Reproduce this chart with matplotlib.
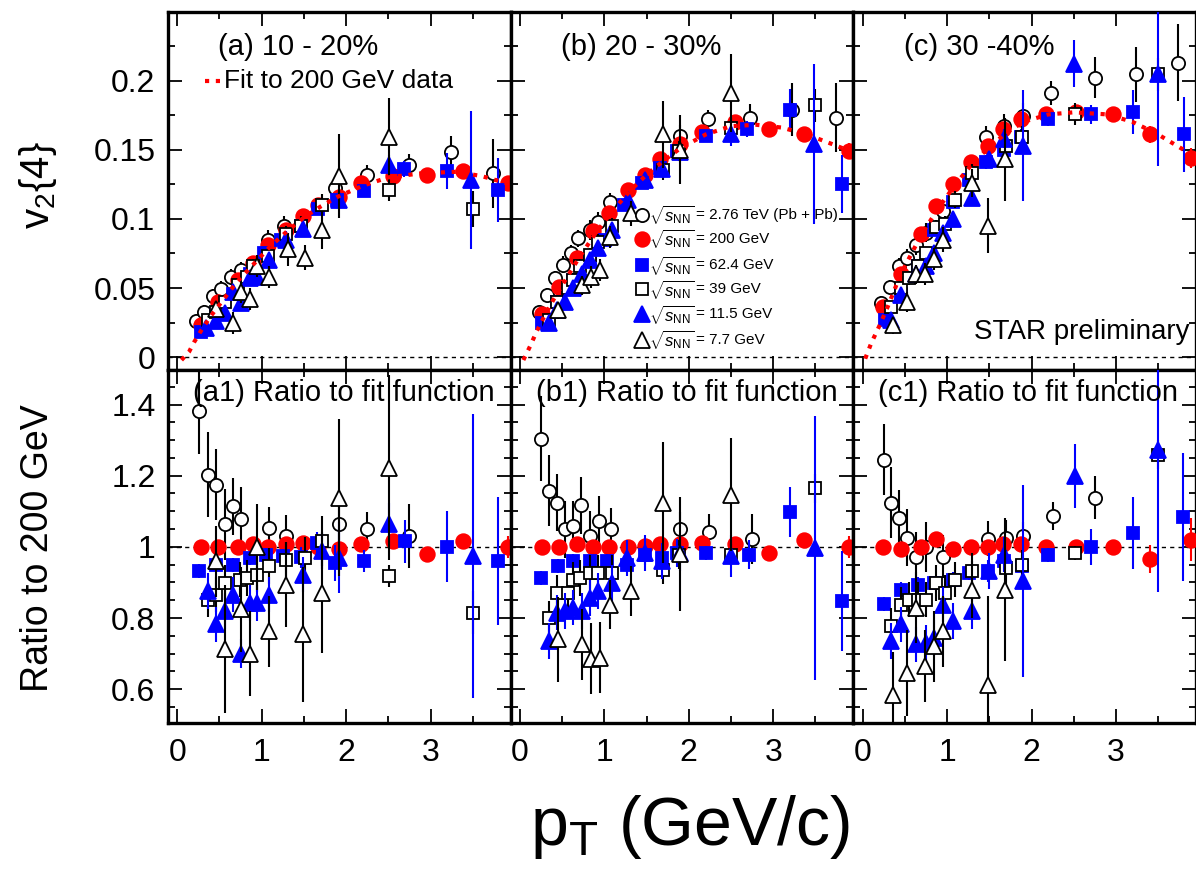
import matplotlib
matplotlib.use('Agg')
import matplotlib.pyplot as plt
from matplotlib.ticker import MultipleLocator, FuncFormatter

plt.rcParams['font.family'] = ['Liberation Sans', 'DejaVu Sans']
plt.rcParams['mathtext.fontset'] = 'custom'
plt.rcParams['mathtext.rm'] = 'Liberation Sans'
plt.rcParams['mathtext.it'] = 'Liberation Sans:italic'
plt.rcParams['mathtext.bf'] = 'Liberation Sans:bold'

energies = ['2.76 TeV (Pb + Pb)', '200 GeV', '62.4 GeV', '39 GeV', '11.5 GeV', '7.7 GeV']
centralities = ['(a) 10 - 20%', '(b) 20 - 30%', '(c) 30 -40%']
ratio_titles = ['(a1) Ratio to fit function', '(b1) Ratio to fit function', '(c1) Ratio to fit function']

# fit to 200 GeV v2{4}: (pT, v2)
fit_a_pt = [0.05, 0.14, 0.2, 0.3, 0.4, 0.5, 0.7, 0.9, 1.1, 1.3, 1.5, 1.7, 1.9, 2.2, 2.5, 2.9, 3.3, 3.6, 3.95]
fit_a_v2 = [-0.002, 0.004, 0.011, 0.021, 0.030, 0.038, 0.054, 0.067, 0.080, 0.091, 0.101, 0.109, 0.116, 0.124, 0.130, 0.133, 0.134, 0.131, 0.125]
fit_b_pt = [0.04, 0.12, 0.2, 0.3, 0.4, 0.5, 0.7, 0.9, 1.1, 1.3, 1.5, 1.7, 1.9, 2.2, 2.5, 2.8, 3.1, 3.4, 3.7, 3.95]
fit_b_v2 = [-0.002, 0.008, 0.019, 0.031, 0.042, 0.052, 0.072, 0.090, 0.106, 0.120, 0.132, 0.142, 0.151, 0.161, 0.167, 0.168, 0.166, 0.161, 0.154, 0.148]
fit_c_pt = [0.03, 0.1, 0.2, 0.3, 0.45, 0.7, 0.9, 1.1, 1.3, 1.5, 1.7, 1.9, 2.2, 2.5, 2.9, 3.2, 3.5, 3.8, 3.97]
fit_c_v2 = [-0.001, 0.010, 0.023, 0.037, 0.060, 0.089, 0.108, 0.125, 0.140, 0.152, 0.162, 0.170, 0.1755, 0.177, 0.1755, 0.170, 0.161, 0.150, 0.143]

# v2{4} vs pT, (pT, v2, err), 10-20%
v2_276_a = [(0.22, 0.026, 0.004), (0.32, 0.033, 0.005), (0.42, 0.044, 0.005), (0.52, 0.049, 0.006), (0.64, 0.058, 0.006),
            (0.76, 0.063, 0.006), (1.07, 0.085, 0.007), (1.27, 0.095, 0.007), (1.87, 0.122, 0.008), (2.25, 0.132, 0.007),
            (2.74, 0.139, 0.008), (3.24, 0.148, 0.012), (3.74, 0.133, 0.025)]
v2_200_a = [(0.28, 0.023, 0.002), (0.48, 0.040, 0.002), (0.72, 0.056, 0.002), (0.90, 0.068, 0.002), (1.07, 0.081, 0.002),
            (1.29, 0.092, 0.002), (1.49, 0.102, 0.002), (1.67, 0.110, 0.002), (1.91, 0.116, 0.002), (2.18, 0.126, 0.003),
            (2.55, 0.131, 0.003), (2.96, 0.132, 0.003), (3.38, 0.1345, 0.004), (3.92, 0.126, 0.005)]
v2_624_a = [(0.28, 0.0186, 0.002), (0.46, 0.031, 0.002), (0.66, 0.046, 0.002), (0.86, 0.060, 0.002), (1.03, 0.075, 0.003),
            (1.23, 0.085, 0.003), (1.47, 0.095, 0.003), (1.67, 0.107, 0.003), (1.89, 0.114, 0.004), (2.21, 0.120, 0.004),
            (2.68, 0.136, 0.006), (3.20, 0.1345, 0.013), (3.80, 0.121, 0.023)]
v2_39_a = [(0.36, 0.027, 0.004), (0.46, 0.033, 0.004), (0.56, 0.040, 0.004), (0.72, 0.052, 0.005), (0.82, 0.058, 0.005),
           (0.90, 0.066, 0.005), (1.07, 0.073, 0.006), (1.29, 0.089, 0.006), (1.47, 0.095, 0.007), (1.71, 0.110, 0.008),
           (2.51, 0.121, 0.008), (3.50, 0.107, 0.013)]
v2_115_a = [(0.34, 0.021, 0.003), (0.46, 0.026, 0.003), (0.56, 0.032, 0.003), (0.66, 0.047, 0.004), (0.76, 0.039, 0.004),
            (0.86, 0.057, 0.004), (0.95, 0.058, 0.005), (1.09, 0.070, 0.005), (1.29, 0.085, 0.006), (1.49, 0.093, 0.006),
            (1.91, 0.114, 0.007), (2.51, 0.139, 0.007), (3.48, 0.128, 0.05)]
v2_77_a = [(0.46, 0.035, 0.006), (0.66, 0.025, 0.008), (0.76, 0.047, 0.008), (0.86, 0.042, 0.008), (0.95, 0.066, 0.008),
           (1.09, 0.058, 0.008), (1.31, 0.078, 0.012), (1.51, 0.072, 0.009), (1.71, 0.092, 0.014), (1.91, 0.131, 0.03),
           (2.51, 0.159, 0.028)]

# 20-30%
v2_276_b = [(0.22, 0.033, 0.004), (0.32, 0.045, 0.005), (0.42, 0.057, 0.005), (0.51, 0.067, 0.006), (0.60, 0.075, 0.006),
            (0.69, 0.086, 0.006), (0.83, 0.092, 0.007), (0.93, 0.098, 0.007), (1.07, 0.112, 0.007), (1.90, 0.160, 0.008),
            (2.23, 0.172, 0.007), (2.73, 0.173, 0.01), (3.22, 0.179, 0.019), (3.74, 0.173, 0.025)]
v2_200_b = [(0.26, 0.031, 0.002), (0.46, 0.051, 0.002), (0.68, 0.072, 0.002), (0.87, 0.091, 0.002), (1.05, 0.104, 0.002),
            (1.28, 0.121, 0.002), (1.48, 0.132, 0.002), (1.66, 0.143, 0.002), (1.90, 0.154, 0.003), (2.16, 0.163, 0.003),
            (2.55, 0.170, 0.003), (2.95, 0.165, 0.004), (3.36, 0.161, 0.005), (3.90, 0.149, 0.006)]
v2_624_b = [(0.26, 0.025, 0.002), (0.44, 0.040, 0.002), (0.63, 0.056, 0.003), (0.83, 0.070, 0.003), (1.01, 0.085, 0.003),
            (1.23, 0.110, 0.003), (1.44, 0.126, 0.004), (1.66, 0.137, 0.004), (1.86, 0.149, 0.005), (2.20, 0.160, 0.004),
            (2.69, 0.165, 0.006), (3.20, 0.179, 0.015), (3.81, 0.125, 0.021)]
v2_39_b = [(0.34, 0.027, 0.004), (0.44, 0.040, 0.004), (0.57, 0.050, 0.005), (0.63, 0.056, 0.005), (0.71, 0.066, 0.005),
           (0.83, 0.074, 0.005), (0.93, 0.083, 0.006), (1.09, 0.095, 0.006), (1.70, 0.135, 0.007), (1.88, 0.149, 0.007),
           (2.50, 0.166, 0.007), (3.50, 0.182, 0.012)]
v2_115_b = [(0.34, 0.025, 0.003), (0.44, 0.034, 0.003), (0.53, 0.040, 0.003), (0.63, 0.050, 0.004), (0.73, 0.060, 0.004),
            (0.83, 0.070, 0.004), (0.93, 0.079, 0.004), (1.09, 0.092, 0.005), (1.28, 0.114, 0.005), (1.48, 0.128, 0.005),
            (1.68, 0.136, 0.006), (1.90, 0.148, 0.007), (2.50, 0.161, 0.008), (3.48, 0.154, 0.058)]
v2_77_b = [(0.45, 0.034, 0.006), (0.73, 0.052, 0.007), (0.84, 0.058, 0.008), (0.95, 0.063, 0.008), (1.07, 0.087, 0.008),
           (1.31, 0.104, 0.009), (1.69, 0.161, 0.024), (1.90, 0.150, 0.025), (2.50, 0.191, 0.028)]

# 30-40%
v2_276_c = [(0.22, 0.039, 0.005), (0.32, 0.051, 0.005), (0.43, 0.066, 0.006), (0.53, 0.072, 0.006), (0.63, 0.081, 0.007),
            (0.75, 0.090, 0.007), (0.95, 0.106, 0.007), (1.46, 0.159, 0.008), (1.68, 0.167, 0.009), (1.90, 0.174, 0.01),
            (2.23, 0.191, 0.009), (2.75, 0.202, 0.015), (3.24, 0.2045, 0.02), (3.73, 0.213, 0.028)]
v2_200_c = [(0.24, 0.036, 0.002), (0.45, 0.060, 0.002), (0.69, 0.089, 0.002), (0.87, 0.109, 0.002), (1.07, 0.125, 0.002),
            (1.28, 0.141, 0.002), (1.48, 0.153, 0.002), (1.66, 0.165, 0.003), (1.88, 0.172, 0.003), (2.17, 0.1756, 0.003),
            (2.53, 0.177, 0.003), (2.96, 0.1756, 0.004), (3.40, 0.161, 0.006), (3.89, 0.144, 0.007)]
v2_624_c = [(0.26, 0.027, 0.002), (0.45, 0.046, 0.003), (0.65, 0.066, 0.003), (0.85, 0.092, 0.003), (1.07, 0.112, 0.004),
            (1.26, 0.128, 0.004), (1.46, 0.141, 0.005), (1.68, 0.150, 0.005), (1.88, 0.159, 0.006), (2.19, 0.172, 0.005),
            (2.71, 0.1756, 0.007), (3.20, 0.177, 0.016), (3.81, 0.161, 0.027)]
v2_39_c = [(0.34, 0.036, 0.004), (0.45, 0.050, 0.004), (0.55, 0.057, 0.005), (0.65, 0.066, 0.005), (0.75, 0.075, 0.005),
           (0.87, 0.094, 0.005), (0.97, 0.096, 0.006), (1.09, 0.114, 0.006), (1.30, 0.133, 0.007), (1.70, 0.153, 0.008),
           (1.89, 0.159, 0.008), (2.51, 0.1756, 0.008), (3.50, 0.2045, 0.012)]
v2_115_c = [(0.34, 0.027, 0.003), (0.45, 0.045, 0.003), (0.63, 0.060, 0.004), (0.75, 0.066, 0.004), (0.85, 0.075, 0.004),
            (0.95, 0.090, 0.005), (1.07, 0.100, 0.005), (1.30, 0.115, 0.006), (1.50, 0.143, 0.006), (1.68, 0.158, 0.007),
            (1.90, 0.153, 0.04), (2.50, 0.212, 0.017), (3.50, 0.2045, 0.066)]
v2_77_c = [(0.36, 0.023, 0.006), (0.53, 0.040, 0.007), (0.63, 0.060, 0.007), (0.74, 0.060, 0.008), (0.85, 0.071, 0.008),
           (0.95, 0.085, 0.009), (1.30, 0.126, 0.01), (1.49, 0.095, 0.02), (1.69, 0.143, 0.03)]

# ratio to the 200 GeV fit, (pT, ratio, err)
ratio_276_a = [(0.26, 1.381, 0.12), (0.36, 1.203, 0.12), (0.46, 1.175, 0.1), (0.56, 1.063, 0.1), (0.66, 1.114, 0.08),
               (0.76, 1.077, 0.09), (1.09, 1.053, 0.06), (1.29, 1.03, 0.06), (1.91, 1.065, 0.07), (2.25, 1.049, 0.05),
               (2.74, 1.03, 0.09)]
ratio_200_a = [(0.28, 1.0, 0.01), (0.48, 1.0, 0.01), (0.72, 1.0, 0.01), (0.90, 1.007, 0.01), (1.07, 1.0, 0.01),
               (1.29, 1.007, 0.01), (1.49, 1.01, 0.01), (1.67, 1.0, 0.01), (1.91, 0.994, 0.01), (2.18, 1.007, 0.015),
               (2.55, 1.016, 0.015), (2.96, 0.98, 0.015), (3.38, 1.016, 0.02), (3.92, 1.0, 0.03)]
ratio_624_a = [(0.26, 0.932, 0.02), (0.46, 0.95, 0.02), (0.66, 0.95, 0.02), (0.86, 0.969, 0.02), (1.05, 0.978, 0.02),
               (1.25, 0.974, 0.02), (1.47, 0.971, 0.03), (1.65, 1.011, 0.03), (1.87, 0.955, 0.05), (2.21, 0.96, 0.03),
               (2.70, 1.016, 0.06), (3.20, 1.0, 0.1), (3.80, 0.96, 0.18)]
ratio_39_a = [(0.36, 0.852, 0.05), (0.46, 0.866, 0.05), (0.56, 0.899, 0.05), (0.74, 0.908, 0.05), (0.82, 0.913, 0.05),
              (0.95, 0.922, 0.05), (1.09, 0.946, 0.05), (1.29, 0.964, 0.05), (1.51, 0.969, 0.06), (1.71, 1.016, 0.07),
              (2.51, 0.918, 0.03), (3.50, 0.815, 0.06)]
ratio_115_a = [(0.36, 0.876, 0.05), (0.46, 0.782, 0.05), (0.56, 0.819, 0.05), (0.66, 0.866, 0.05), (0.76, 0.70, 0.04),
               (0.86, 0.843, 0.05), (0.95, 0.843, 0.05), (1.09, 0.866, 0.05), (1.49, 0.922, 0.05), (1.71, 0.988, 0.05),
               (1.91, 0.97, 0.1), (2.51, 1.063, 0.06), (3.50, 0.974, 0.4)]
ratio_77_a = [(0.46, 0.96, 0.1), (0.56, 0.712, 0.18), (0.76, 0.824, 0.12), (0.86, 0.70, 0.12), (0.95, 1.0, 0.12),
              (1.09, 0.763, 0.1), (1.29, 0.894, 0.12), (1.49, 0.754, 0.19), (1.71, 0.871, 0.17), (1.91, 1.138, 0.22),
              (2.51, 1.222, 0.26)]

ratio_276_b = [(0.25, 1.304, 0.12), (0.34, 1.158, 0.1), (0.44, 1.124, 0.08), (0.53, 1.049, 0.08), (0.63, 1.058, 0.07),
               (0.72, 1.117, 0.08), (0.83, 1.03, 0.07), (0.94, 1.072, 0.07), (1.08, 1.049, 0.06), (1.90, 1.049, 0.05),
               (2.24, 1.041, 0.05), (2.75, 1.023, 0.07)]
ratio_200_b = [(0.26, 1.0, 0.01), (0.46, 1.0, 0.01), (0.68, 1.007, 0.01), (0.87, 1.0, 0.01), (1.05, 1.0, 0.01),
               (1.28, 1.0, 0.01), (1.48, 1.003, 0.01), (1.66, 1.007, 0.01), (1.90, 1.007, 0.01), (2.16, 1.01, 0.015),
               (2.55, 1.007, 0.015), (2.95, 0.983, 0.015), (3.36, 1.02, 0.02), (3.90, 1.0, 0.03)]
ratio_624_b = [(0.25, 0.913, 0.02), (0.45, 0.946, 0.02), (0.63, 0.96, 0.02), (0.83, 0.96, 0.02), (1.03, 0.96, 0.02),
               (1.27, 0.95, 0.02), (1.48, 0.978, 0.03), (1.68, 0.969, 0.03), (1.86, 0.983, 0.04), (2.20, 0.983, 0.02),
               (2.71, 0.978, 0.04), (3.20, 1.098, 0.07), (3.81, 0.847, 0.14)]
ratio_39_b = [(0.34, 0.799, 0.05), (0.44, 0.871, 0.05), (0.57, 0.871, 0.05), (0.63, 0.908, 0.05), (0.71, 0.913, 0.05),
              (0.83, 0.927, 0.05), (0.93, 0.927, 0.05), (1.09, 0.927, 0.05), (1.70, 0.936, 0.04), (1.88, 0.978, 0.04),
              (2.50, 0.978, 0.03), (3.50, 1.164, 0.04)]
ratio_115_b = [(0.34, 0.735, 0.05), (0.44, 0.815, 0.05), (0.53, 0.819, 0.05), (0.63, 0.829, 0.05), (0.73, 0.819, 0.05),
               (0.83, 0.857, 0.05), (0.93, 0.876, 0.05), (1.09, 0.899, 0.05), (1.27, 0.969, 0.05), (1.48, 0.983, 0.05),
               (1.68, 0.96, 0.05), (1.90, 0.983, 0.05), (2.50, 0.974, 0.06), (3.50, 0.997, 0.37)]
ratio_77_b = [(0.45, 0.74, 0.12), (0.73, 0.726, 0.1), (0.84, 0.686, 0.1), (0.95, 0.688, 0.1), (1.07, 0.838, 0.07),
              (1.31, 0.876, 0.07), (1.69, 1.124, 0.17), (1.90, 0.98, 0.16), (2.50, 1.147, 0.16)]

ratio_276_c = [(0.25, 1.245, 0.1), (0.34, 1.124, 0.1), (0.43, 1.081, 0.08), (0.53, 1.025, 0.08), (0.63, 0.972, 0.07),
               (0.75, 1.0, 0.07), (0.95, 0.972, 0.06), (1.49, 1.023, 0.05), (1.70, 1.025, 0.05), (1.90, 1.03, 0.04),
               (2.25, 1.086, 0.04), (2.75, 1.138, 0.06)]
ratio_200_c = [(0.24, 1.0, 0.01), (0.45, 0.995, 0.01), (0.69, 1.0, 0.01), (0.87, 1.023, 0.01), (1.07, 0.995, 0.01),
               (1.28, 1.0, 0.01), (1.48, 1.0, 0.01), (1.66, 1.007, 0.01), (1.88, 1.007, 0.01), (2.17, 1.0, 0.015),
               (2.53, 1.0, 0.015), (2.96, 1.0, 0.02), (3.40, 0.966, 0.04), (3.89, 1.02, 0.06)]
ratio_624_c = [(0.25, 0.84, 0.02), (0.45, 0.88, 0.02), (0.65, 0.894, 0.02), (0.85, 0.899, 0.02), (1.07, 0.908, 0.02),
               (1.26, 0.927, 0.02), (1.48, 0.932, 0.03), (1.68, 0.96, 0.03), (1.89, 0.946, 0.03), (2.19, 0.978, 0.02),
               (2.71, 1.0, 0.05), (3.20, 1.039, 0.1), (3.80, 1.083, 0.18)]
ratio_39_c = [(0.34, 0.777, 0.05), (0.45, 0.838, 0.05), (0.55, 0.852, 0.05), (0.65, 0.852, 0.05), (0.75, 0.852, 0.05),
              (0.87, 0.899, 0.05), (0.97, 0.871, 0.05), (1.09, 0.908, 0.05), (1.30, 0.932, 0.05), (1.70, 0.941, 0.05),
              (1.89, 0.95, 0.04), (2.51, 0.983, 0.02), (3.50, 1.259, 0.04)]
ratio_115_c = [(0.34, 0.735, 0.05), (0.45, 0.782, 0.05), (0.63, 0.726, 0.05), (0.75, 0.73, 0.05), (0.85, 0.744, 0.05),
               (0.95, 0.838, 0.05), (1.07, 0.791, 0.05), (1.30, 0.819, 0.05), (1.50, 0.932, 0.05), (1.68, 0.978, 0.05),
               (1.90, 0.904, 0.27), (2.51, 1.198, 0.09), (3.50, 1.273, 0.4)]
ratio_77_c = [(0.36, 0.585, 0.12), (0.53, 0.646, 0.12), (0.63, 0.829, 0.1), (0.74, 0.665, 0.1), (0.85, 0.721, 0.1),
              (0.95, 0.763, 0.1), (1.30, 0.88, 0.08), (1.49, 0.613, 0.25), (1.69, 0.88, 0.2)]

fits = [(fit_a_pt, fit_a_v2), (fit_b_pt, fit_b_v2), (fit_c_pt, fit_c_v2)]
v2_sets = [[v2_276_a, v2_200_a, v2_624_a, v2_39_a, v2_115_a, v2_77_a],
           [v2_276_b, v2_200_b, v2_624_b, v2_39_b, v2_115_b, v2_77_b],
           [v2_276_c, v2_200_c, v2_624_c, v2_39_c, v2_115_c, v2_77_c]]
ratio_sets = [[ratio_276_a, ratio_200_a, ratio_624_a, ratio_39_a, ratio_115_a, ratio_77_a],
              [ratio_276_b, ratio_200_b, ratio_624_b, ratio_39_b, ratio_115_b, ratio_77_b],
              [ratio_276_c, ratio_200_c, ratio_624_c, ratio_39_c, ratio_115_c, ratio_77_c]]

# marker style per energy (same order as energies)
styles = [
    dict(marker='o', mfc='white', mec='black', color='black', ms=9.5),
    dict(marker='o', mfc='red', mec='red', color='red', ms=10.5),
    dict(marker='s', mfc='blue', mec='blue', color='blue', ms=9),
    dict(marker='s', mfc='white', mec='black', color='black', ms=9),
    dict(marker='^', mfc='blue', mec='blue', color='blue', ms=11),
    dict(marker='^', mfc='white', mec='black', color='black', ms=11.5),
]


def draw_points(ax, pts, st, z):
    pt = [p[0] for p in pts]
    val = [p[1] for p in pts]
    err = [p[2] for p in pts]
    ax.errorbar(pt, val, yerr=err, fmt='none', ecolor=st['color'], elinewidth=1.5, capsize=0, zorder=z)
    ax.plot(pt, val, ls='none', marker=st['marker'], ms=st['ms'], mfc=st['mfc'], mec=st['mec'],
            mew=1.3, clip_on=False, zorder=z + 0.5)


def style_axes(ax, ymajor, yminor):
    ax.set_xlim(-0.11, 3.95)
    ax.xaxis.set_major_locator(MultipleLocator(1))
    ax.xaxis.set_minor_locator(MultipleLocator(0.5))
    ax.yaxis.set_major_locator(MultipleLocator(ymajor))
    ax.yaxis.set_minor_locator(MultipleLocator(yminor))
    fmt = FuncFormatter(lambda v, p: '%g' % round(v, 3))
    ax.xaxis.set_major_formatter(fmt)
    ax.yaxis.set_major_formatter(fmt)
    ax.tick_params(which='both', direction='in', top=True, right=True, width=1.3, labelsize=23)
    ax.tick_params(which='major', length=10)
    ax.tick_params(which='minor', length=5)
    ax.tick_params(axis='x', pad=11)
    ax.tick_params(axis='y', pad=9)
    for s in ax.spines.values():
        s.set_linewidth(2.4)


fig = plt.figure(figsize=(11.96, 8.75), dpi=100)
left, width = 168 / 1196, 342.7 / 1196
top_axes, ratio_axes = [], []
for i in range(3):
    ax = fig.add_axes([left + i * width, 1 - 370 / 875, width, 358 / 875])
    axr = fig.add_axes([left + i * width, 1 - 723 / 875, width, 353 / 875])
    top_axes.append(ax)
    ratio_axes.append(axr)

for i in range(3):
    ax, axr = top_axes[i], ratio_axes[i]
    style_axes(ax, 0.05, 0.025)
    style_axes(axr, 0.2, 0.05)
    ax.set_ylim(-0.0092, 0.2495)
    axr.set_ylim(0.505, 1.497)
    ax.tick_params(labelbottom=False)
    if i > 0:
        ax.tick_params(labelleft=False)
        axr.tick_params(labelleft=False)

    ax.axhline(0, color='black', lw=1, ls=(0, (3, 3)), zorder=1)
    axr.axhline(1, color='black', lw=1, ls=(0, (3, 3)), zorder=1)

    for k, st in enumerate(styles):
        draw_points(ax, v2_sets[i][k], st, 3 + k)
        draw_points(axr, ratio_sets[i][k], st, 3 + k)

    fpt, fv = fits[i]
    ax.plot(fpt, fv, color='red', lw=3, ls=(0, (1, 1.6)), zorder=12)

    ax.text(0.147, 0.903, centralities[i], transform=ax.transAxes, fontsize=21, va='center', ha='left')
    axr.text(0.073, 0.936, ratio_titles[i], transform=axr.transAxes, fontsize=21, va='center', ha='left',
             zorder=20)

# fit legend in panel (a)
ax = top_axes[0]
ax.plot([0.108, 0.158], [0.806, 0.806], transform=ax.transAxes, color='red', lw=3,
        ls=(0, (1, 1.6)), clip_on=False)
ax.text(0.162, 0.806, 'Fit to 200 GeV data', transform=ax.transAxes, fontsize=19, va='center', ha='left')

# energy legend in panel (b)
ax = top_axes[1]
leg_y = [0.433, 0.366, 0.293, 0.226, 0.156, 0.084]
for k, st in enumerate(styles):
    ax.plot([0.383], [leg_y[k]], transform=ax.transAxes, ls='none', marker=st['marker'], ms=st['ms'],
            mfc=st['mfc'], mec=st['mec'], mew=1.3, clip_on=False, zorder=20)
    ax.text(0.405, leg_y[k], r'$\sqrt{s_{\rm NN}}$', transform=ax.transAxes, fontsize=12,
            va='center', ha='left', zorder=20)
    ax.text(0.54, leg_y[k], '= ' + energies[k], transform=ax.transAxes, fontsize=11,
            va='center', ha='left', zorder=20)

top_axes[2].text(0.982, 0.105, 'STAR preliminary', transform=top_axes[2].transAxes, fontsize=20,
                 va='center', ha='right', zorder=20)

fig.text(38 / 1196, 1 - 185 / 875, r'v$_2${4}', rotation=90, fontsize=29, va='center', ha='center')
fig.text(38 / 1196, 1 - 548 / 875, 'Ratio to 200 GeV', rotation=90, fontsize=27, va='center', ha='center')
fig.text(690 / 1196, 1 - 845 / 875, r'p$_{\rm T}$ (GeV/c)', fontsize=49, va='baseline', ha='center')

fig.savefig('out.png', dpi=100)
